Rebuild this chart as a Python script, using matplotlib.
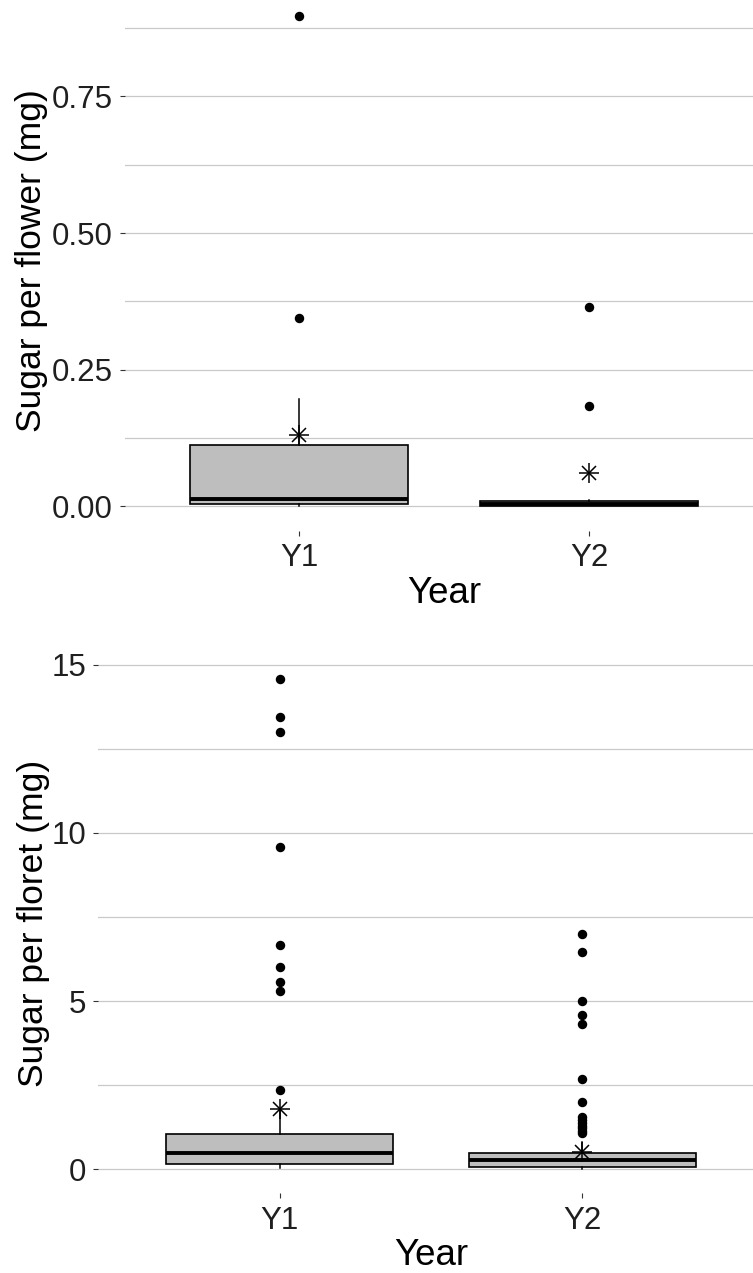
import numpy as np
import matplotlib
matplotlib.use("Agg")
from matplotlib import pyplot as plt
from matplotlib.ticker import FixedLocator, FormatStrFormatter

plt.rcParams['font.family'] = ['Liberation Sans', 'DejaVu Sans']

years = ['Y1', 'Y2']

# sugar per flower (mg)
flower_whislo = [0.001, 0.0]
flower_q1 = [0.005, 0.001]
flower_med = [0.0135, 0.005]
flower_q3 = [0.113, 0.010]
flower_whishi = [0.197, 0.012]
flower_mean = [0.130, 0.061]
flower_out = [[0.345, 0.898], [0.183, 0.364]]

# sugar per floret (mg)
floret_whislo = [0.05, 0.02]
floret_q1 = [0.15, 0.08]
floret_med = [0.47, 0.27]
floret_q3 = [1.05, 0.49]
floret_whishi = [1.75, 0.80]
floret_mean = [1.78, 0.52]
floret_out = [[2.35, 5.29, 5.57, 6.01, 6.67, 9.59, 12.99, 13.44, 14.59],
              [1.08, 1.15, 1.22, 1.30, 1.38, 1.47, 1.55, 2.00, 2.67,
               4.31, 4.59, 5.01, 6.47, 6.98]]


def make_stats(lo, q1, med, q3, hi, out):
    return [dict(whislo=lo[i], q1=q1[i], med=med[i], q3=q3[i], whishi=hi[i],
                 fliers=out[i], label=years[i]) for i in range(len(years))]


def draw_panel(ax, stats, means, major, minor, fmt, ylabel, label_x):
    pos = np.arange(1, len(years) + 1)
    ax.bxp(stats, positions=pos, widths=0.75, patch_artist=True, showcaps=False,
           boxprops=dict(facecolor='#bebebe', edgecolor='black', linewidth=1.2),
           medianprops=dict(color='black', linewidth=2.8),
           whiskerprops=dict(color='black', linewidth=1.1),
           flierprops=dict(marker='o', markerfacecolor='black', markeredgecolor='black',
                           markersize=5.8, linestyle='none'))
    # mean shown as an asterisk (plus + cross)
    ax.plot(pos, means, linestyle='none', marker='+', ms=14.5, mew=1.1, color='black', zorder=5)
    ax.plot(pos, means, linestyle='none', marker='x', ms=10.5, mew=1.1, color='black', zorder=5)

    # ggplot style limits: 5% expansion of the data range
    vals = [s['whislo'] for s in stats] + [v for s in stats for v in s['fliers']]
    lo, hi = min(vals), max(vals)
    r = hi - lo
    ax.set_ylim(lo - 0.05 * r, hi + 0.05 * r)
    ax.set_xlim(0.4, len(years) + 0.6)

    ax.yaxis.set_major_locator(FixedLocator(major))
    ax.yaxis.set_minor_locator(FixedLocator(minor))
    ax.yaxis.set_major_formatter(FormatStrFormatter(fmt))
    ax.set_xticks(pos)
    ax.set_xticklabels(years)

    ax.grid(axis='y', which='both', color='#c9c9c9', linewidth=0.9)
    ax.grid(axis='x', visible=False)
    ax.set_axisbelow(True)
    for s in ax.spines.values():
        s.set_visible(False)

    ax.tick_params(axis='y', which='major', length=3.6, width=0.8, color='#333333',
                   pad=5, labelsize=22.5, labelcolor='#1f1f1f')
    ax.tick_params(axis='y', which='minor', length=0)
    ax.tick_params(axis='x', length=3.6, width=0.8, color='#333333',
                   pad=5.5, labelsize=22.5, labelcolor='#1f1f1f')

    ax.set_xlabel('Year', fontsize=26.5, labelpad=2)
    ax.set_ylabel(ylabel, fontsize=25.5)
    ax.yaxis.set_label_coords(label_x, 0.5)


fig = plt.figure(figsize=(7.53, 12.73), dpi=100)
ax1 = fig.add_axes([0.166, 0.583, 0.8477, 0.424])
ax2 = fig.add_axes([0.1305, 0.0628, 0.8837, 0.4234])

draw_panel(ax1,
           make_stats(flower_whislo, flower_q1, flower_med, flower_q3, flower_whishi, flower_out),
           flower_mean, [0.0, 0.25, 0.5, 0.75], [0.125, 0.375, 0.625, 0.875], '%.2f',
           'Sugar per flower (mg)', -0.121)
draw_panel(ax2,
           make_stats(floret_whislo, floret_q1, floret_med, floret_q3, floret_whishi, floret_out),
           floret_mean, [0, 5, 10, 15], [2.5, 7.5, 12.5], '%d',
           'Sugar per floret (mg)', -0.073)

fig.savefig('out.png', dpi=100)
